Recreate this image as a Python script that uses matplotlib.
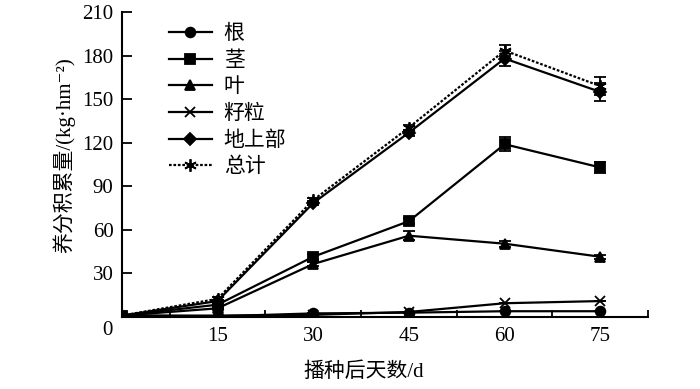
import matplotlib
matplotlib.use("Agg")
import matplotlib.pyplot as plt
from matplotlib.ticker import FixedLocator

plt.rcParams["font.family"] = ["Liberation Serif", "Noto Sans CJK SC", "DejaVu Serif"]

days = [0, 15, 30, 45, 60, 75]

root = [1, 0.5, 2.5, 3, 4, 4]
stem = [1, 8.5, 41.5, 66, 119, 103]
leaf = [1, 6, 36.5, 56, 50.5, 41.5]
grain = [1, 1, 1.5, 3.5, 9.5, 11]
above = [1, 11, 78.5, 127, 178, 155]
total = [1, 12.5, 80.5, 130.5, 183.5, 159]

root_err = [0, 0, 0, 0, 0, 0]
stem_err = [0, 1, 2, 2, 5, 4]
leaf_err = [0, 0.5, 1.5, 3, 2, 1.5]
grain_err = [0, 0, 0, 0, 0, 0]
above_err = [0, 1, 1.5, 2, 5, 6]
total_err = [0, 1, 1.5, 2, 4, 6]

series = [
    ("根", root, root_err, "o", "-", 7),
    ("茎", stem, stem_err, "s", "-", 7),
    ("叶", leaf, leaf_err, "^", "-", 7),
    ("籽粒", grain, grain_err, "x", "-", 7),
    ("地上部", above, above_err, "D", "-", 6.5),
    ("总计", total, total_err, (6, 2, 0), (0, (1.2, 0.8)), 9),
]

fig = plt.figure(figsize=(7.0, 3.89), dpi=100)
ax = fig.add_axes([0.174, 0.185, 0.752, 0.784])

for name, vals, err, mk, ls, ms in series:
    ax.errorbar(days, vals, yerr=err, fmt="none", ecolor="black",
                elinewidth=1.3, capsize=4, capthick=1.3, zorder=3)
    ax.plot(days, vals, color="black", ls=ls, lw=1.6, marker=mk,
            ms=ms, mew=1.3, mfc="black", mec="black", label=name, zorder=4)

ax.set_xlim(0, 82.5)
ax.set_ylim(0, 210)
ax.spines["top"].set_visible(False)
ax.spines["right"].set_visible(False)
ax.spines["left"].set_linewidth(1.5)
ax.spines["bottom"].set_linewidth(1.5)

ax.set_xticks([15, 30, 45, 60, 75])
ax.xaxis.set_minor_locator(FixedLocator([7.5, 22.5, 37.5, 52.5, 67.5, 82.5]))
ax.tick_params(axis="x", which="major", length=0, labelsize=15, pad=7)
ax.tick_params(axis="x", which="minor", direction="in", length=5, width=1.3)
ax.set_yticks([30, 60, 90, 120, 150, 180, 210])
ax.tick_params(axis="y", direction="in", length=7, width=1.3, labelsize=15, pad=6)
ax.text(-2.3, -3, "0", ha="center", va="top", fontsize=15)

ax.set_xlabel("播种后天数/d", fontsize=15)
ax.xaxis.set_label_coords(0.46, -0.15)
ax.set_ylabel("养分积累量/(kg·hm⁻²)", fontsize=15)
ax.yaxis.set_label_coords(-0.088, 0.53)

ax.legend(loc="upper left", bbox_to_anchor=(0.065, 1.0), frameon=False,
          fontsize=15, handlelength=2.1, labelspacing=0.34, handletextpad=0.55,
          borderaxespad=0.2)

fig.savefig("out.png", dpi=100)
